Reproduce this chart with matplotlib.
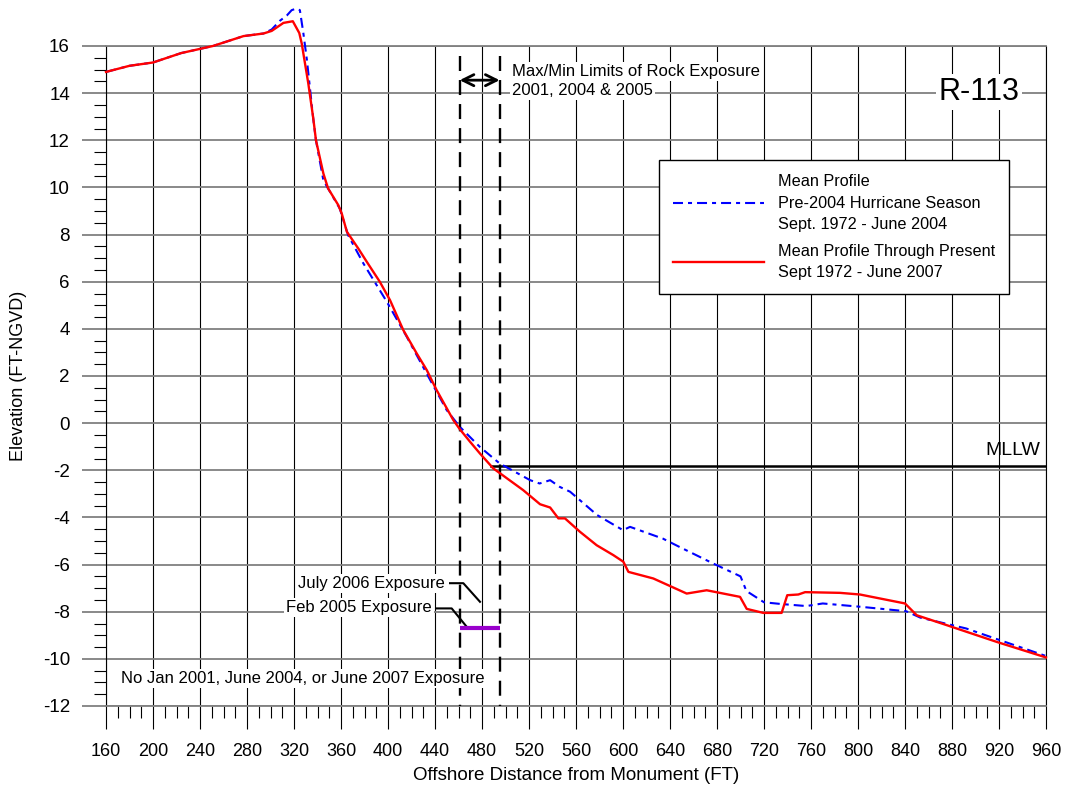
#!/usr/bin/env python3
from __future__ import annotations

import numpy as np
from matplotlib import pyplot as plt
from matplotlib.lines import Line2D
from matplotlib.ticker import MultipleLocator

# profile data (distance ft, elevation ft NGVD)
PRE_2004_X = [
    160, 180, 200, 224, 251, 277, 294, 301, 308, 314, 318, 322, 325, 328,
    331, 336.4, 338.7, 345, 359, 366, 379, 399, 416, 436, 450, 461, 478,
    495, 521, 529, 538, 546, 555, 578, 600, 606, 634, 648, 677, 700, 705,
    720, 734, 756, 770, 802, 841, 853, 892, 921, 960,
]
PRE_2004_Y = [
    14.9, 15.16, 15.3, 15.7, 16.0, 16.42, 16.53, 16.7, 17.07, 17.3, 17.52,
    17.59, 17.52, 16.53, 15.4, 12.9, 12.0, 10.3, 9.1, 7.98, 6.78, 5.15,
    3.66, 1.82, 0.55, -0.15, -1.0, -1.71, -2.42, -2.56, -2.42, -2.70,
    -2.91, -3.9, -4.54, -4.4, -4.9, -5.25, -5.96, -6.5, -7.12, -7.6,
    -7.67, -7.76, -7.65, -7.79, -7.98, -8.25, -8.71, -9.21, -9.88,
]

PRESENT_X = [
    160, 180, 200, 224, 251, 277, 294, 301, 311, 319, 324.5, 326.6, 332.2,
    336.4, 338.7, 345, 349, 357.7, 360.6, 365, 374.7, 382, 393, 401.7, 413,
    424.4, 433, 441.4, 455.6, 461, 470, 478.3, 489.6, 515, 529.4, 538, 545,
    550.6, 563.4, 577.6, 591.8, 600.3, 604.6, 625.8, 654.2, 671.2, 699.6,
    705.3, 719.4, 735, 739.8, 749.2, 755, 784.7, 801.7, 840, 850, 875.5,
    918, 960,
]
PRESENT_Y = [
    14.9, 15.16, 15.3, 15.7, 16.0, 16.42, 16.53, 16.64, 16.98, 17.05, 16.55,
    16.1, 14.4, 12.93, 12.0, 10.59, 9.96, 9.25, 8.9, 8.12, 7.41, 6.84, 6.0,
    5.22, 3.95, 2.96, 2.25, 1.4, 0.13, -0.25, -0.8, -1.29, -1.92, -2.84,
    -3.44, -3.58, -4.04, -4.04, -4.61, -5.18, -5.6, -5.88, -6.31, -6.59,
    -7.23, -7.09, -7.37, -7.88, -8.05, -8.05, -7.3, -7.27, -7.17, -7.2,
    -7.27, -7.65, -8.15, -8.57, -9.28, -9.94,
]

ROCK_LIMITS = [461, 495]
ROCK_TOP = 15.57
FEB_2005_EXPOSURE = ([461, 495], -8.67)
MLLW = -1.82
MLLW_START = 488

X_TICKS = np.arange(160, 961, 40)
Y_TICKS = np.arange(-12, 17, 2)

FONT = ["Liberation Sans", "DejaVu Sans"]
GRID_GRAY = "#808080"


def main():
    plt.rcParams["font.family"] = FONT
    plt.rcParams["lines.scale_dashes"] = False
    plt.rcParams["axes.unicode_minus"] = False

    fig = plt.figure(figsize=(10.69, 7.91), dpi=100)
    ax = fig.add_axes((106 / 1069, 1 - 706 / 791, 940 / 1069, 660 / 791))

    ax.set_xlim(160, 960)
    ax.set_ylim(-12, 16)
    ax.set_xticks(X_TICKS)
    ax.set_yticks(Y_TICKS)
    ax.xaxis.set_minor_locator(MultipleLocator(10))
    ax.yaxis.set_minor_locator(MultipleLocator(0.5))

    ax.tick_params(axis="x", which="major", length=16.5, width=0.8,
                   color="black", pad=10, labelsize=13)
    ax.tick_params(axis="x", which="minor", length=8.5, width=0.8)
    ax.tick_params(axis="y", which="major", length=17, width=1.3,
                   color=GRID_GRAY, pad=9, labelsize=13.5)
    ax.tick_params(axis="y", which="minor", length=8.5, width=0.8,
                   color="black")

    ax.set_axisbelow(True)
    ax.grid(axis="x", which="major", color="black", lw=0.8)
    ax.grid(axis="y", which="major", color=GRID_GRAY, lw=1.3)
    for side in ("left", "right"):
        ax.spines[side].set_color("black")
        ax.spines[side].set_linewidth(0.8)
    for side in ("top", "bottom"):
        ax.spines[side].set_color(GRID_GRAY)
        ax.spines[side].set_linewidth(1.3)

    blue_dash = (0, (7.2, 3.6, 2.9, 3.6))
    ax.plot(PRE_2004_X, PRE_2004_Y, color="#0000ff", lw=1.5,
            linestyle=blue_dash, clip_on=False, zorder=4)
    ax.plot(PRESENT_X, PRESENT_Y, color="#ff0000", lw=1.7,
            clip_on=False, zorder=5)

    # rock exposure limits
    for x in ROCK_LIMITS:
        ax.plot([x, x], [ROCK_TOP, -12], color="black", lw=1.7,
                linestyle=(0, (10.8, 6.5)), zorder=3)
    ax.annotate("", xy=(ROCK_LIMITS[0], 14.55), xytext=(ROCK_LIMITS[1], 14.55),
                arrowprops=dict(arrowstyle="<->", lw=2, color="black",
                                mutation_scale=20, shrinkA=0, shrinkB=0))
    box = dict(facecolor="white", edgecolor="none", pad=1.5)
    ax.text(505.5, 14.9, "Max/Min Limits of Rock Exposure", fontsize=12,
            ha="left", va="center", bbox=box)
    ax.text(505.5, 14.13, "2001, 2004 & 2005", fontsize=12,
            ha="left", va="center", bbox=box)

    xs, y = FEB_2005_EXPOSURE
    ax.plot(xs, [y, y], color="#9900cc", lw=3, solid_capstyle="butt", zorder=6)

    ax.text(448.5, -6.79, "July 2006 Exposure", fontsize=12,
            ha="right", va="center", bbox=box)
    ax.plot([452.8, 464.1, 478.3], [-6.79, -6.79, -7.58], color="black", lw=1.5)
    ax.text(437.2, -7.84, "Feb 2005 Exposure", fontsize=12,
            ha="right", va="center", bbox=box)
    ax.plot([441.4, 454.2, 467.0], [-7.86, -7.86, -8.64], color="black", lw=1.5)
    ax.text(172.5, -10.83, "No Jan 2001, June 2004, or June 2007 Exposure",
            fontsize=12, ha="left", va="center", bbox=box)

    # MLLW
    ax.plot([MLLW_START, 960], [MLLW, MLLW], color="black", lw=1.8, zorder=3)
    ax.text(955, -1.15, "MLLW", fontsize=14, ha="right", va="center")

    ax.text(903, 14.04, "R-113", fontsize=22, ha="center", va="center",
            bbox=dict(facecolor="white", edgecolor="none", pad=2))

    handles = [
        Line2D([], [], color="#0000ff", lw=1.5, linestyle=blue_dash),
        Line2D([], [], color="#ff0000", lw=1.7),
    ]
    labels = [
        "Mean Profile\nPre-2004 Hurricane Season\nSept. 1972 - June 2004",
        "Mean Profile Through Present\nSept 1972 - June 2007",
    ]
    legend = ax.legend(
        handles, labels,
        loc="upper left", bbox_to_anchor=(0.588, 0.827), borderaxespad=0,
        fancybox=False, framealpha=1, edgecolor="black",
        handlelength=5.6, handletextpad=0.92, borderpad=0.85,
        labelspacing=0.7, prop={"size": 11.7},
    )
    legend.get_frame().set_linewidth(1.0)
    for text in legend.get_texts():
        text.set_linespacing(1.55)

    fig.text(19 / 1069, 1 - 376 / 791, "Elevation (FT-NGVD)", fontsize=13,
             rotation=90, ha="center", va="center")
    fig.text(576 / 1069, 1 - 775 / 791, "Offshore Distance from Monument (FT)",
             fontsize=13.5, ha="center", va="center")

    fig.savefig("out.png", dpi=100)


if __name__ == "__main__":
    main()
